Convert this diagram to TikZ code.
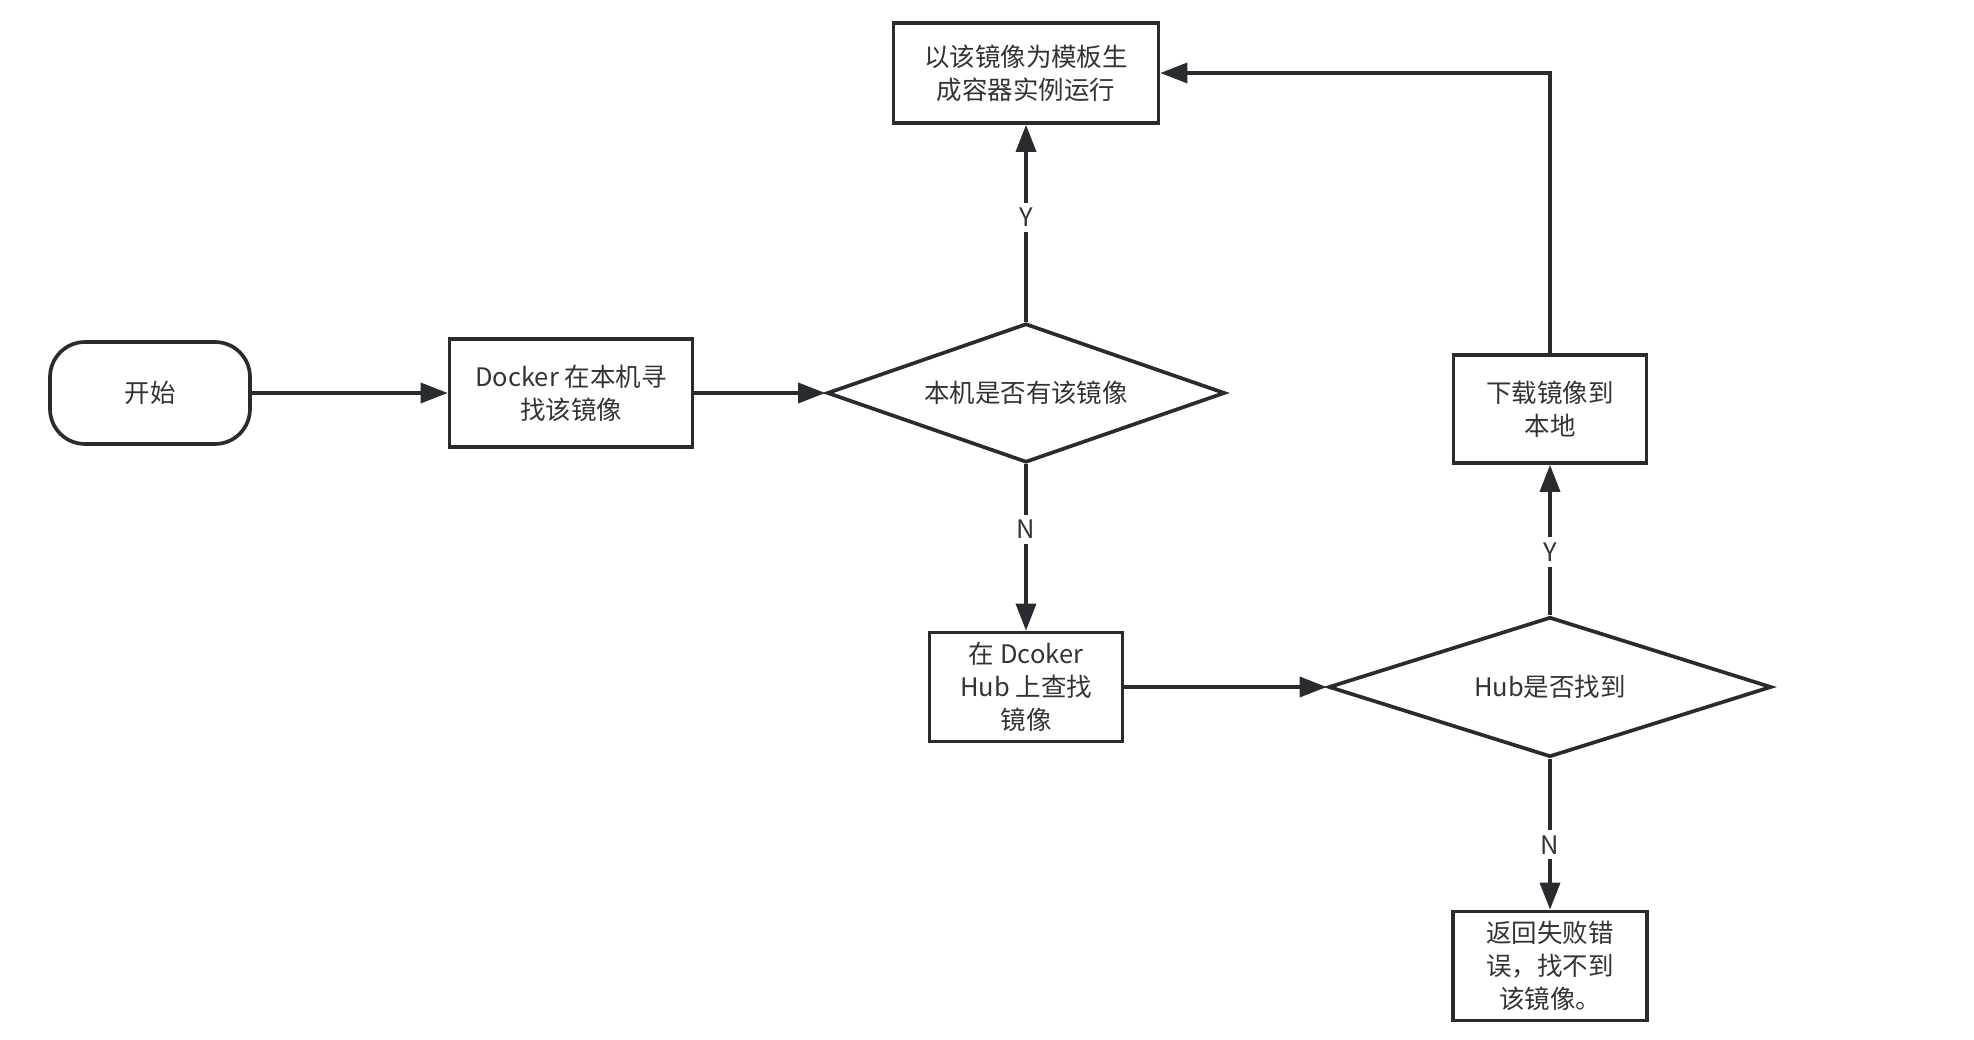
\documentclass[tikz,border=0pt]{standalone}
\usepackage{fontspec}
\setmainfont{Noto Sans CJK SC}
\usetikzlibrary{shapes.geometric,arrows.meta}
\definecolor{ink}{RGB}{40,43,47}
\definecolor{txt}{RGB}{51,51,51}
\tikzset{
  box/.style={draw=ink, line width=2.1pt, align=center, inner sep=0pt, text=txt},
  decision/.style={diamond, draw=ink, line width=2.1pt, inner sep=0pt, text=txt},
  flow/.style={-{Triangle[length=0.54cm,width=0.4cm]}, draw=ink, line width=2pt},
  yn/.style={fill=white, text=txt, inner sep=3pt},
}

\begin{document}
\begin{tikzpicture}[x=0.02cm, y=-0.02cm, font=\fontsize{14.5pt}{18.7pt}\selectfont]
    \useasboundingbox (0,0) rectangle (1974,1040);

    \node[box, rounded corners=0.7cm, minimum width=4.0cm, minimum height=2.04cm] (start) at (150,393) {开始};
    \node[box, minimum width=4.86cm, minimum height=2.16cm] (search) at (571,393) {Docker 在本机寻\\找该镜像};
    \node[decision, aspect=2.86, minimum width=7.96cm, minimum height=2.78cm] (local) at (1026,393) {本机是否有该镜像};
    \node[box, minimum width=5.3cm, minimum height=2.0cm] (run) at (1026,73) {以该镜像为模板生\\成容器实例运行};
    \node[box, minimum width=3.86cm, minimum height=2.18cm] (hub) at (1026,687) {在 Dcoker\\Hub 上查找\\镜像};
    \node[decision, aspect=3.16, minimum width=8.86cm, minimum height=2.8cm] (found) at (1550,687) {Hub是否找到};
    \node[box, minimum width=3.86cm, minimum height=2.16cm] (pull) at (1550,409) {下载镜像到\\本地};
    \node[box, minimum width=3.88cm, minimum height=2.18cm] (fail) at (1550,966) {返回失败错\\误，找不到\\该镜像。};

    \draw[flow] (start) -- (search);
    \draw[flow] (search) -- (local);
    \draw[flow] (local) -- node[yn, pos=0.53] {Y} (run);
    \draw[flow] (local) -- node[yn, pos=0.39] {N} (hub);
    \draw[flow] (hub) -- (found);
    \draw[flow] (found) -- node[yn, pos=0.42] {Y} (pull);
    \draw[flow] (found) -- node[yn, pos=0.57] {N} (fail);
    \draw[flow] (pull.north) |- (run.east);
\end{tikzpicture}
\end{document}
